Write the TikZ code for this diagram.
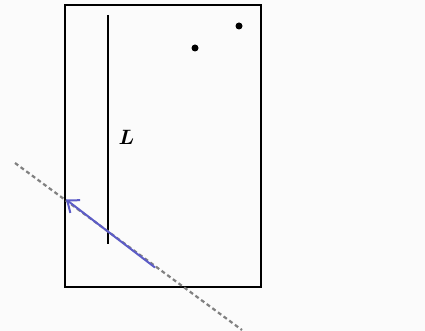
\documentclass[tikz,border=0pt]{standalone}
\usepackage{amsmath}
\usepackage{bm}
\usetikzlibrary{arrows.meta}
\definecolor{bg}{rgb}{0.985,0.985,0.985}
\definecolor{arrowblue}{rgb}{0.36,0.36,0.78}
\definecolor{dashgray}{rgb}{0.5,0.5,0.5}
\tikzset{
  box/.style={draw=black, line width=2pt},
  rod/.style={draw=black, line width=1.5pt},
  dot/.style={circle, fill=black, inner sep=0pt, minimum size=7pt},
  ray/.style={draw=dashgray, line width=2.2pt, dash pattern=on 4pt off 3pt},
  beam/.style={draw=arrowblue, line width=2pt, -{Straight Barb[length=10pt,width=16pt]}}
}
\begin{document}
\begin{tikzpicture}[x=1pt,y=-1pt]
\fill[bg] (0,0) rectangle (425,331);
\useasboundingbox (0,0) rectangle (425,331);
\draw[box] (65,5) rectangle (261,287);
\coordinate (rtop) at (108,15);
\coordinate (rbot) at (108,244);
\draw[rod] (rtop) -- (rbot);
\node[font=\fontsize{21}{24}\selectfont] (L) at (126.5,137.5) {$\bm{L}$};
\node[dot] (d1) at (195,48) {};
\node[dot] (d2) at (239,26) {};
\coordinate (rs) at (15,163);
\coordinate (re) at (242,330);
\draw[ray] (rs) -- (re);
\coordinate (bs) at (155,267.5);
\coordinate (be) at (66,199.5);
\draw[beam] (bs) -- (be);
\end{tikzpicture}
\end{document}
